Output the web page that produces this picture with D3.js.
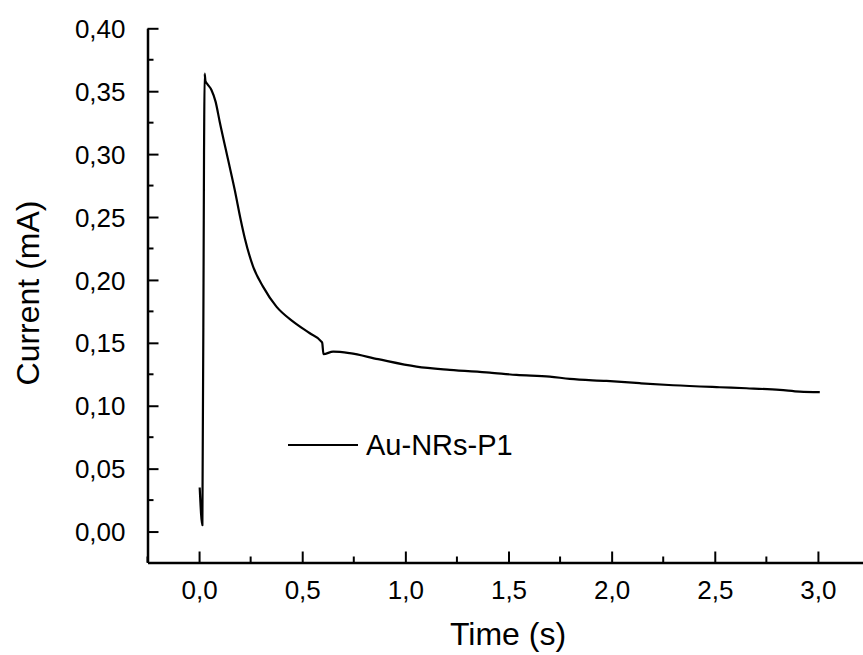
<!DOCTYPE html>
<html><head><meta charset="utf-8">
<script src="https://cdn.jsdelivr.net/npm/d3@7"></script>
<style>body{margin:0;background:#fff}svg{display:block}text{font-family:"Liberation Sans",Arial,sans-serif;fill:#000}</style>
</head><body><svg id="c" width="863" height="655"></svg>
<script>
const seriesName = "Au-NRs-P1";
const timeS = [0.003,0.016,0.024,0.027,0.031,0.041,0.060,0.080,0.100,0.141,0.173,0.202,0.222,0.262,0.310,0.375,0.456,0.537,0.593,0.597,0.603,0.650,0.730,0.868,1.054,1.215,1.409,1.539,1.700,1.797,1.975,2.136,2.298,2.524,2.653,2.815,2.912,3.009];
const currentMA = [0.035,0.005,0.300,0.364,0.358,0.3555,0.351,0.3417,0.3258,0.2953,0.2715,0.2477,0.2330,0.2106,0.1947,0.1788,0.1669,0.1576,0.151,0.150,0.141,0.143,0.1418,0.137,0.1311,0.1285,0.1263,0.1245,0.1232,0.1213,0.1197,0.1179,0.1163,0.1147,0.1139,0.1126,0.1112,0.1108];
const xTicks = [0,0.5,1,1.5,2,2.5,3];
const yTicks = [0,0.05,0.1,0.15,0.2,0.25,0.3,0.35,0.4];
const xLabel = "Time (s)", yLabel = "Current (mA)";

const svg = d3.select("#c");
const x = d3.scaleLinear().domain([-0.25,3.25]).range([147.5,869.5]);
const y = d3.scaleLinear().domain([-0.0246,0.4]).range([562.5,28.3]);
const fmt = d => d3.format(".1f")(d).replace(".",",");
const fmtY = d => d3.format(".2f")(d).replace(".",",");

const xMinor = d3.range(-0.25,3.26,0.25).filter(v=>Math.abs(v*2-Math.round(v*2))>1e-6);
const yMinor = d3.range(0.025,0.4,0.05);

const xAxis = d3.axisBottom(x).tickValues(xTicks).tickFormat(fmt).tickSizeInner(-11).tickSizeOuter(0).tickPadding(18);
const yAxis = d3.axisLeft(y).tickValues(yTicks).tickFormat(fmtY).tickSizeInner(-11).tickSizeOuter(0).tickPadding(22);

const gx = svg.append("g").attr("transform",`translate(0,${y.range()[0]})`).call(xAxis);
gx.append("g").selectAll("line").data(xMinor).join("line")
  .attr("x1",d=>x(d)).attr("x2",d=>x(d)).attr("y1",0).attr("y2",-6).attr("stroke","#000").attr("stroke-width",2);
const gy = svg.append("g").attr("transform",`translate(${x.range()[0]},0)`).call(yAxis);
gy.append("g").selectAll("line").data(yMinor).join("line")
  .attr("y1",d=>y(d)).attr("y2",d=>y(d)).attr("x1",0).attr("x2",6).attr("stroke","#000").attr("stroke-width",2);

[gx,gy].forEach(g=>{
  g.select(".domain").attr("stroke","#000").attr("stroke-width",2.5);
  g.selectAll(".tick line").attr("stroke","#000").attr("stroke-width",2);
  g.selectAll(".tick text").attr("font-size",26).attr("font-family","Liberation Sans, Arial, sans-serif").attr("fill","#000");
});
gx.selectAll(".tick text").attr("dy","0.71em");
gy.selectAll(".tick text").attr("dy","0.35em");

svg.append("path").datum(timeS.map((t,i)=>[t,currentMA[i]]))
  .attr("fill","none").attr("stroke","#000").attr("stroke-width",2.2).attr("stroke-linejoin","round")
  .attr("d",d3.line().x(d=>x(d[0])).y(d=>y(d[1])).curve(d3.curveMonotoneX));

svg.append("text").attr("x",508).attr("y",645).attr("text-anchor","middle").attr("font-size",32).text(xLabel);
svg.append("text").attr("transform","translate(39,293) rotate(-90)").attr("text-anchor","middle").attr("font-size",32).text(yLabel);

svg.append("line").attr("x1",288).attr("x2",358).attr("y1",445).attr("y2",445).attr("stroke","#000").attr("stroke-width",2.2);
svg.append("text").attr("x",366).attr("y",455).attr("font-size",29).text(seriesName);
</script></body></html>
